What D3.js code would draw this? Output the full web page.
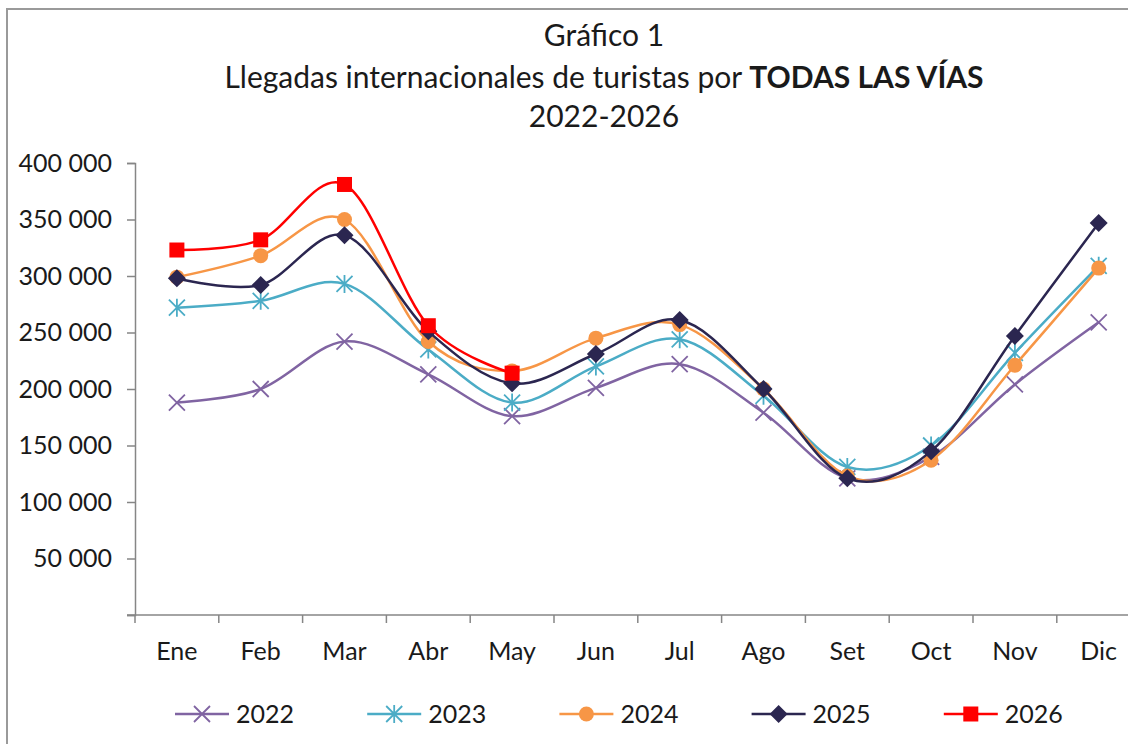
<!DOCTYPE html>
<html>
<head>
<meta charset="utf-8">
<script src="https://cdn.jsdelivr.net/npm/d3@7"></script>
<style>
  body { margin: 0; background: #fff; }
  svg { display: block; font-family: Lato, "Open Sans", sans-serif; }
</style>
</head>
<body>
<div id="chart"></div>
<script>
// data
const months = ["Ene","Feb","Mar","Abr","May","Jun","Jul","Ago","Set","Oct","Nov","Dic"];
const years = ["2022","2023","2024","2025","2026"];
const v2022 = [188000,200000,242000,213000,176000,201000,222000,179000,121000,140000,204000,259000];
const v2023 = [272000,278000,293000,235000,188000,220000,244000,194000,131000,150000,232000,309000];
const v2024 = [299000,318000,350000,242000,216000,245000,257000,200000,123000,137000,221000,307000];
const v2025 = [298000,292000,336000,251000,205000,231000,261000,200000,121000,145000,247000,347000];
const v2026 = [323000,332000,381000,256000,214000];
const yTicks = [0,50000,100000,150000,200000,250000,300000,350000,400000];

const colors = ["#8064A2","#4BACC6","#F79646","#2B2650","#FF0000"];
const markers = ["x","star","circle","diamond","square"];
const seriesVals = [v2022, v2023, v2024, v2025, v2026];

const W = 1128, H = 744;
const svg = d3.select("#chart").append("svg")
  .attr("width", W).attr("height", H);

// outer frame (cropped on right and bottom like the reference)
svg.append("rect")
  .attr("x", 7).attr("y", 9)
  .attr("width", 1200).attr("height", 800)
  .attr("fill", "white")
  .attr("stroke", "#9a9a9a")
  .attr("stroke-width", 2);

// title
const title = svg.append("g").attr("text-anchor", "middle").attr("fill", "#1a1a1a");
title.append("text").attr("x", 604).attr("y", 46).attr("font-size", 30).text("Gráfico 1");
const t2 = title.append("text").attr("x", 604).attr("y", 88).attr("font-size", 30);
t2.append("tspan").text("Llegadas internacionales de turistas por ");
t2.append("tspan").attr("font-weight", "bold").text("TODAS LAS VÍAS");
title.append("text").attr("x", 604).attr("y", 127).attr("font-size", 30).text("2022-2026");

// scales
const x0 = 135, step = 83.8;
const x = d3.scaleBand().domain(months).range([x0, x0 + step * months.length]).padding(0);
const y = d3.scaleLinear().domain([0, 400000]).range([615, 163]);
const cx = m => x(m) + x.bandwidth() / 2;

const axisColor = "#868686";

// y axis
const yAxis = svg.append("g")
  .attr("transform", `translate(${x0},0)`)
  .call(d3.axisLeft(y).tickValues(yTicks).tickSize(8).tickPadding(15)
    .tickFormat(d => d === 0 ? "" : d3.format(",")(d).replace(/,/g, " ")));
yAxis.select(".domain").attr("stroke", axisColor).attr("stroke-width", 1.5);
yAxis.selectAll(".tick line").attr("stroke", axisColor).attr("stroke-width", 1.5);
yAxis.selectAll(".tick text").attr("font-size", 25).attr("fill", "#1a1a1a")
  .attr("font-family", "Lato, sans-serif");

// x axis line with ticks between categories
const xg = svg.append("g");
xg.append("line")
  .attr("x1", x0 - 8).attr("x2", W + 20)
  .attr("y1", y(0)).attr("y2", y(0))
  .attr("stroke", axisColor).attr("stroke-width", 1.5);
xg.selectAll(".xt").data(d3.range(months.length + 1)).join("line")
  .attr("x1", i => x0 + i * x.step()).attr("x2", i => x0 + i * x.step())
  .attr("y1", y(0)).attr("y2", y(0) + 8)
  .attr("stroke", axisColor).attr("stroke-width", 1.5);
xg.selectAll(".xl").data(months).join("text")
  .attr("x", cx).attr("y", 660)
  .attr("text-anchor", "middle")
  .attr("font-size", 25).attr("fill", "#1a1a1a")
  .text(d => d);

// marker drawing
function drawMarker(g, type, color, px, py) {
  if (type === "x") {
    const s = 8;
    g.append("path")
      .attr("d", `M${px-s},${py-s}L${px+s},${py+s}M${px-s},${py+s}L${px+s},${py-s}`)
      .attr("stroke", color).attr("stroke-width", 1.8).attr("fill", "none");
  } else if (type === "star") {
    const s = 8;
    g.append("path")
      .attr("d", `M${px-s},${py-s}L${px+s},${py+s}M${px-s},${py+s}L${px+s},${py-s}M${px},${py-s-1}L${px},${py+s+1}`)
      .attr("stroke", color).attr("stroke-width", 1.8).attr("fill", "none");
  } else if (type === "circle") {
    g.append("circle").attr("cx", px).attr("cy", py).attr("r", 7.5).attr("fill", color);
  } else if (type === "diamond") {
    const s = 9;
    g.append("path")
      .attr("d", `M${px},${py-s}L${px+s},${py}L${px},${py+s}L${px-s},${py}Z`)
      .attr("fill", color);
  } else if (type === "square") {
    const s = 7.5;
    g.append("rect").attr("x", px - s).attr("y", py - s)
      .attr("width", 2 * s).attr("height", 2 * s).attr("fill", color);
  }
}

// lines (Excel-like smoothing)
const line = d3.line()
  .x((d, i) => cx(months[i]))
  .y(d => y(d))
  .curve(d3.curveCardinal.tension(0));

const plot = svg.append("g");
seriesVals.forEach((vals, k) => {
  const g = plot.append("g");
  g.append("path")
    .datum(vals)
    .attr("d", line)
    .attr("fill", "none")
    .attr("stroke", colors[k])
    .attr("stroke-width", 2.5);
  vals.forEach((v, i) => drawMarker(g, markers[k], colors[k], cx(months[i]), y(v)));
});

// legend
const legend = svg.append("g");
years.forEach((yr, k) => {
  const lx = 175 + k * 192.2, ly = 714;
  const g = legend.append("g");
  g.append("line").attr("x1", lx).attr("x2", lx + 54)
    .attr("y1", ly).attr("y2", ly)
    .attr("stroke", colors[k]).attr("stroke-width", 2.5);
  drawMarker(g, markers[k], colors[k], lx + 27, ly);
  g.append("text").attr("x", lx + 61).attr("y", ly + 9)
    .attr("font-size", 25).attr("fill", "#1a1a1a").text(yr);
});
</script>
</body>
</html>
